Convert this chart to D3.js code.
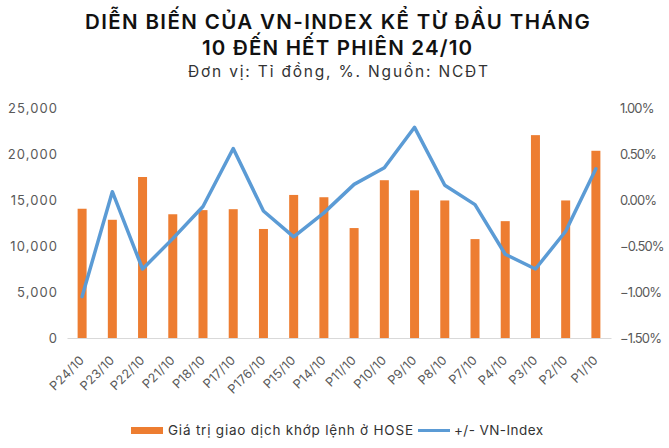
<!DOCTYPE html>
<html><head><meta charset="utf-8">
<script src="https://cdn.jsdelivr.net/npm/d3@7"></script>
<style>body{margin:0;background:#fff}svg{display:block}</style>
</head><body>
<script>
const categories = ["P24/10","P23/10","P22/10","P21/10","P18/10","P17/10","P176/10","P15/10","P14/10","P11/10","P10/10","P9/10","P8/10","P7/10","P4/10","P3/10","P2/10","P1/10"];
const tradeValue = [14050,12850,17500,13450,13900,14000,11850,15550,15300,11950,17150,16050,14950,10750,12700,22050,14950,20350];
const indexChange = [-1.05,0.09,-0.75,-0.42,-0.07,0.56,-0.12,-0.40,-0.14,0.17,0.35,0.79,0.16,-0.05,-0.59,-0.75,-0.34,0.34];
const leftTicks = [0,5000,10000,15000,20000,25000];
const rightTicks = [-1.5,-1.0,-0.5,0,0.5,1.0];
const titleLines = ["DIỄN BIẾN CỦA VN-INDEX KỂ TỪ ĐẦU THÁNG","10 ĐẾN HẾT PHIÊN 24/10"];
const subtitle = "Đơn vị: Tỉ đồng, %. Nguồn: NCĐT";
const barName = "Giá trị giao dịch khớp lệnh ở HOSE";
const lineName = "+/- VN-Index";

const W=669,H=448;
const font = "Inter,'Open Sans','Noto Sans',sans-serif";
const svg = d3.select("body").append("svg").attr("width",W).attr("height",H);
const m={left:67,right:611,top:108,bottom:338};
const x = d3.scaleBand().domain(categories).range([m.left,m.right]);
const yL = d3.scaleLinear().domain([0,25000]).range([m.bottom,m.top]);
const yR = d3.scaleLinear().domain([-1.5,1.0]).range([m.bottom,m.top]);

// stretch/shrink text to a target width with letter-spacing (start-anchored)
function fit(sel, target){
  const s = sel.text(); const w = sel.node().getComputedTextLength();
  const ls = (target - w) / Math.max(1, s.length - 1);
  sel.attr("letter-spacing", ls.toFixed(2));
  return ls;
}

// title
const tW=[505,270], tC=[337.5,337], tY=[28.5,55];
titleLines.forEach((t,i)=>{
  const el = svg.append("text").attr("y",tY[i])
    .attr("font-family",font).attr("font-weight",600).attr("font-size",20.5).attr("fill","#111").text(t);
  fit(el,tW[i]); el.attr("x",tC[i]-tW[i]/2);
});
const sub = svg.append("text").attr("y",77)
  .attr("font-family",font).attr("font-size",15.5).attr("fill","#333").text(subtitle);
fit(sub,300); sub.attr("x",188);

// axes
const gL = svg.append("g").attr("transform",`translate(${m.left-10},0)`)
  .call(d3.axisLeft(yL).tickValues(leftTicks).tickSize(0).tickPadding(0).tickFormat(d3.format(",")));
const gR = svg.append("g").attr("transform",`translate(${m.right+9},0)`)
  .call(d3.axisRight(yR).tickValues(rightTicks).tickSize(0).tickPadding(0).tickFormat(d=>d3.format(".2f")(d)+"%"));
[gL,gR].forEach(g=>{g.select(".domain").remove();
  g.selectAll("text").attr("font-family",font).attr("font-size",13).attr("fill","#595959");});
// widen left labels so "25,000" spans ~49px, keep right edge fixed
{
  const w0 = gL.selectAll("text").filter(d=>d===25000).node().getComputedTextLength();
  const ls = (49 - w0)/5;
  gL.selectAll("text").each(function(){
    const t = d3.select(this); t.attr("letter-spacing",ls.toFixed(2));
    t.attr("text-anchor","start").attr("x", -(this.getComputedTextLength() - ls));
  });
}
{
  const w0 = gR.selectAll("text").filter(d=>d===-1.5).node().getComputedTextLength();
  const ls = Math.min(0.6,(42 - w0)/5);
  gR.selectAll("text").attr("letter-spacing",ls.toFixed(2));
}

// baseline + category labels
const gX = svg.append("g").attr("transform",`translate(0,${m.bottom})`)
  .call(d3.axisBottom(x).tickSize(0).tickPadding(0));
gX.select(".domain").attr("stroke","#d9d9d9").attr("stroke-width",1.2);
gX.selectAll("text").attr("font-family",font).attr("font-size",12.5).attr("fill","#595959")
  .attr("letter-spacing",0.3)
  .attr("text-anchor","end").attr("dy",0)
  .attr("transform","translate(3,23) rotate(-45)");

// bars
const bw = 9;
svg.append("g").selectAll("rect").data(tradeValue).join("rect")
  .attr("x",(d,i)=>x(categories[i])+x.bandwidth()/2-bw/2)
  .attr("width",bw).attr("y",d=>yL(d)).attr("height",d=>yL(0)-yL(d))
  .attr("fill","#ED7D31");

// line
const line = d3.line().x((d,i)=>x(categories[i])+x.bandwidth()/2).y(d=>yR(d));
svg.append("path").datum(indexChange).attr("d",line).attr("fill","none")
  .attr("stroke","#5B9BD5").attr("stroke-width",3.5).attr("stroke-linejoin","round").attr("stroke-linecap","round");

// legend
const lg = svg.append("g");
lg.append("rect").attr("x",131).attr("y",427).attr("width",32).attr("height",7).attr("fill","#ED7D31");
const t1 = lg.append("text").attr("x",168).attr("y",435).attr("font-family",font).attr("font-size",13.5).attr("fill","#333").text(barName);
fit(t1,245);
lg.append("line").attr("x1",418).attr("x2",450).attr("y1",430.5).attr("y2",430.5).attr("stroke","#5B9BD5").attr("stroke-width",3);
const t2 = lg.append("text").attr("x",454).attr("y",435).attr("font-family",font).attr("font-size",13.5).attr("fill","#333").text(lineName);
fit(t2,89);
</script>
</body></html>
